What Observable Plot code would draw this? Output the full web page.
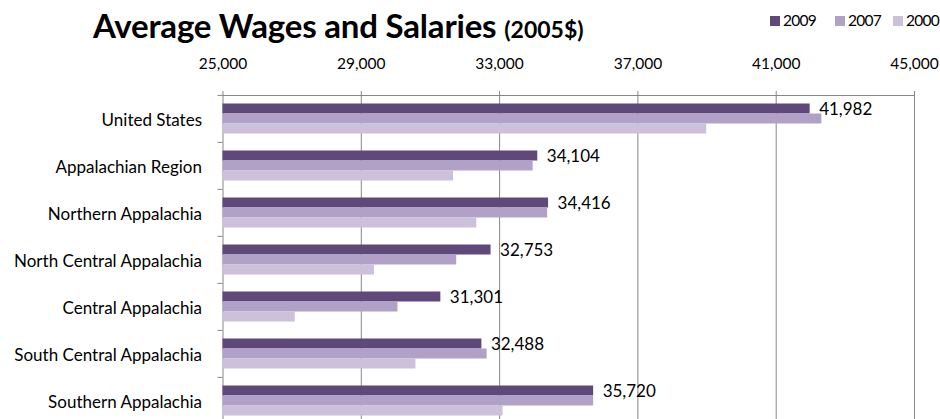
<!DOCTYPE html>
<html>
<head>
<meta charset="utf-8">
<script src="https://cdn.jsdelivr.net/npm/d3@7"></script>
<script src="https://cdn.jsdelivr.net/npm/@observablehq/plot@0.6"></script>
<style>
html, body { margin: 0; padding: 0; overflow: hidden; background: #fff; width: 940px; height: 419px; }
#wrap { position: relative; width: 940px; font-family: Lato, "Open Sans", sans-serif; color: #000; }
#header { position: relative; height: 50px; }
#title { position: absolute; left: 93px; top: 5px; font-weight: bold; font-size: 33px; line-height: 40px; white-space: nowrap; letter-spacing: -0.2px; }
#title .sub { font-size: 23px; letter-spacing: 0; }
.leg { position: absolute; top: 10px; font-size: 15.5px; white-space: nowrap; line-height: 20px; letter-spacing: -0.7px; }
.leg i { display: inline-block; width: 10px; height: 10px; margin-right: 3px; vertical-align: 0px; }
</style>
</head>
<body>
<div id="wrap">
  <div id="header">
    <div id="title">Average Wages and Salaries <span class="sub">(2005$)</span></div>
    <div id="legend"></div>
  </div>
  <div id="chart"></div>
</div>
<script>
const regions = ["United States", "Appalachian Region", "Northern Appalachia", "North Central Appalachia", "Central Appalachia", "South Central Appalachia", "Southern Appalachia"];
const years = ["2009", "2007", "2000"];
const wages2009 = [41982, 34104, 34416, 32753, 31301, 32488, 35720];
const wages2007 = [42320, 33970, 34390, 31760, 30060, 32640, 35720];
const wages2000 = [38990, 31670, 32340, 29380, 27090, 30580, 33100];
const xDomain = [25000, 45000];
const xTicks = [25000, 29000, 33000, 37000, 41000, 45000];
const colors = ["#5F497A", "#B2A1C7", "#CCC0DA"];

const series = {"2009": wages2009, "2007": wages2007, "2000": wages2000};
const rows = [];
regions.forEach((r, i) => years.forEach(y => rows.push({region: r, year: y, value: series[y][i]})));
const labelRows = rows.filter(d => d.year === years[0]);

// legend
const legendLeft = [770, 835, 893];
const legend = document.getElementById("legend");
years.forEach((y, i) => {
  const el = document.createElement("div");
  el.className = "leg";
  el.style.left = legendLeft[i] + "px";
  el.innerHTML = `<i style="background:${colors[i]}"></i>${y}`;
  legend.appendChild(el);
});

const pitch = 47.23;
const marginTop = 44.5;
const gridColor = "#868686";
const fmt = d3.format(",");

const chart = Plot.plot({
  width: 940,
  height: Math.round(marginTop + pitch * regions.length + 1),
  marginLeft: 222.5,
  marginRight: 26,
  marginTop,
  marginBottom: 1,
  style: {fontFamily: "Lato, 'Open Sans', sans-serif", fontSize: "15px", color: "#000", background: "transparent", overflow: "visible"},
  x: {domain: xDomain},
  y: {domain: years, paddingInner: 0.04, paddingOuter: 0.73, axis: null},
  fy: {domain: regions, padding: 0},
  color: {domain: years, range: colors},
  marks: [
    Plot.gridX(xTicks, {stroke: gridColor, strokeOpacity: 1}),
    Plot.barX(rows, {fy: "region", y: "year", x1: () => xDomain[0], x2: "value", fill: "year"}),
    Plot.text(labelRows, {fy: "region", y: "year", x: "value", text: d => fmt(d.value), dx: 9, dy: 0.5, textAnchor: "start", fontSize: 17, fill: "#000"}),
    Plot.frame({anchor: "top", facetAnchor: "top", stroke: gridColor}),
    Plot.axisX(xTicks, {anchor: "top", tickSize: 5, tickPadding: 22, tickFormat: fmt, stroke: gridColor, fill: "#000", fontSize: 15.5, label: null}),
    Plot.axisFy({anchor: "left", tickSize: 0, tickPadding: 21, dy: 1.5, fontSize: 17, fill: "#000", label: null}),
    Plot.axisFy({anchor: "left", tickSize: 5, tickFormat: () => "", dy: -pitch / 2, stroke: gridColor, label: null})
  ]
});
document.getElementById("chart").appendChild(chart);
</script>
</body>
</html>
